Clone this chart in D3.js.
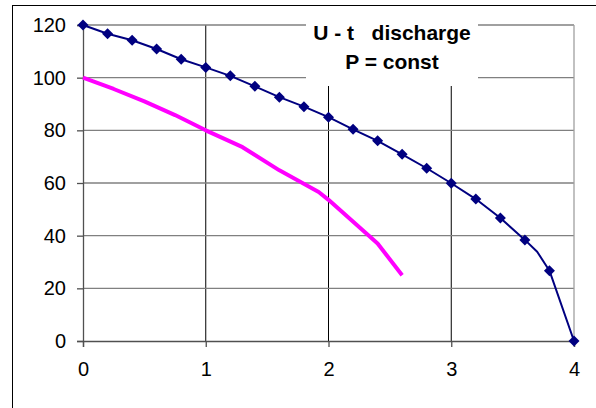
<!DOCTYPE html>
<html>
<head>
<meta charset="utf-8">
<script src="https://cdn.jsdelivr.net/npm/d3@7"></script>
<style>
  body { margin: 0; background: #fff; }
  svg { display: block; }
</style>
</head>
<body>
<svg id="chart"></svg>
<script>
// time axis (h) and voltage readings
const tBlue = [0, 0.2, 0.4, 0.6, 0.8, 1.0, 1.2, 1.4, 1.6, 1.8, 2.0, 2.2, 2.4, 2.6, 2.8, 3.0, 3.2, 3.4, 3.6, 3.7, 3.8, 4.0];
const uBlue = [120, 116.7, 114.2, 110.9, 107, 103.9, 100.7, 96.7, 92.6, 89, 85, 80.4, 76, 70.9, 65.6, 59.9, 53.9, 46.7, 38.4, 33.9, 26.7, 0];
// which of the readings carry a diamond marker (3.7 is only a bend of the smoothed line)
const markBlue = [1, 1, 1, 1, 1, 1, 1, 1, 1, 1, 1, 1, 1, 1, 1, 1, 1, 1, 1, 0, 1, 1];

const tPink = [0, 0.25, 0.5, 0.75, 1.0, 1.3, 1.6, 1.92, 2.0, 2.4, 2.6];
const uPink = [100, 95.7, 91, 85.8, 80, 73.6, 64.8, 56.6, 53.6, 37, 25];

const xTicks = [0, 1, 2, 3, 4];
const yTicks = [0, 20, 40, 60, 80, 100, 120];
const titleLines = ["U - t   discharge", "P = const"];

const svgWidth = 596;
const svgHeight = 408;

const svg = d3.select("#chart")
    .attr("width", svgWidth)
    .attr("height", svgHeight);

// outer chart frame (runs off the right/bottom edge)
svg.append("rect")
    .attr("x", 12.5).attr("y", 5.5)
    .attr("width", 620).attr("height", 430)
    .attr("fill", "none")
    .attr("stroke", "#000");

const plotL = 83, plotR = 574, plotT = 25, plotB = 341;

const x = d3.scaleLinear().domain([0, 4]).range([plotL, plotR]);
const y = d3.scaleLinear().domain([0, 120]).range([plotB, plotT]);

// vertical grid (black)
svg.append("g")
    .selectAll("line")
    .data(xTicks.slice(1, -1))
    .enter().append("line")
    .attr("x1", d => x(d)).attr("x2", d => x(d))
    .attr("y1", plotT).attr("y2", plotB)
    .attr("stroke", "#000")
    .attr("stroke-width", 1);

// horizontal grid (gray)
svg.append("g")
    .selectAll("line")
    .data(yTicks.slice(1))
    .enter().append("line")
    .attr("x1", plotL).attr("x2", plotR)
    .attr("y1", d => y(d)).attr("y2", d => y(d))
    .attr("stroke", "#808080")
    .attr("stroke-width", 1.3);

// right edge of plot area
svg.append("line")
    .attr("x1", plotR).attr("x2", plotR)
    .attr("y1", plotT).attr("y2", plotB)
    .attr("stroke", "#a0a0a0")
    .attr("stroke-width", 1.3);

// axes
const yAxis = svg.append("g")
    .attr("transform", `translate(${plotL},0)`)
    .call(d3.axisLeft(y).tickValues(yTicks).tickSize(6).tickPadding(11));

const xAxis = svg.append("g")
    .attr("transform", `translate(0,${plotB})`)
    .call(d3.axisBottom(x).tickValues(xTicks).tickSize(6).tickPadding(15).tickFormat(d3.format("d")));

[yAxis, xAxis].forEach(a => {
    a.select(".domain").attr("stroke", "#505050").attr("stroke-width", 1.3);
    a.selectAll(".tick line").attr("stroke", "#505050").attr("stroke-width", 1.3);
    a.selectAll("text")
        .attr("font-family", "Liberation Sans, Arial, sans-serif")
        .attr("font-size", 20)
        .attr("fill", "#000");
});

// title box
svg.append("rect")
    .attr("x", 306).attr("y", 18)
    .attr("width", 172).attr("height", 68)
    .attr("fill", "#fff");

svg.append("g")
    .selectAll("text")
    .data(titleLines)
    .enter().append("text")
    .attr("x", 392)
    .attr("y", (d, i) => 40 + i * 29)
    .attr("text-anchor", "middle")
    .attr("font-family", "Liberation Sans, Arial, sans-serif")
    .attr("font-weight", "bold")
    .attr("font-size", 21)
    .style("white-space", "pre")
    .text(d => d);

// magenta series
const pink = tPink.map((t, i) => [t, uPink[i]]);
svg.append("path")
    .datum(pink)
    .attr("fill", "none")
    .attr("stroke", "#ff00ff")
    .attr("stroke-width", 4)
    .attr("stroke-linejoin", "round")
    .attr("d", d3.line().x(d => x(d[0])).y(d => y(d[1])));

// navy series with diamond markers
const blue = tBlue.map((t, i) => [t, uBlue[i], markBlue[i]]);
svg.append("path")
    .datum(blue)
    .attr("fill", "none")
    .attr("stroke", "#000080")
    .attr("stroke-width", 2)
    .attr("stroke-linejoin", "round")
    .attr("d", d3.line().x(d => x(d[0])).y(d => y(d[1])));

const r = 5.5;
svg.append("g")
    .selectAll("path")
    .data(blue.filter(d => d[2]))
    .enter().append("path")
    .attr("fill", "#000080")
    .attr("d", d => {
        const cx = x(d[0]), cy = y(d[1]);
        return `M${cx},${cy - r}L${cx + r},${cy}L${cx},${cy + r}L${cx - r},${cy}Z`;
    });
</script>
</body>
</html>
